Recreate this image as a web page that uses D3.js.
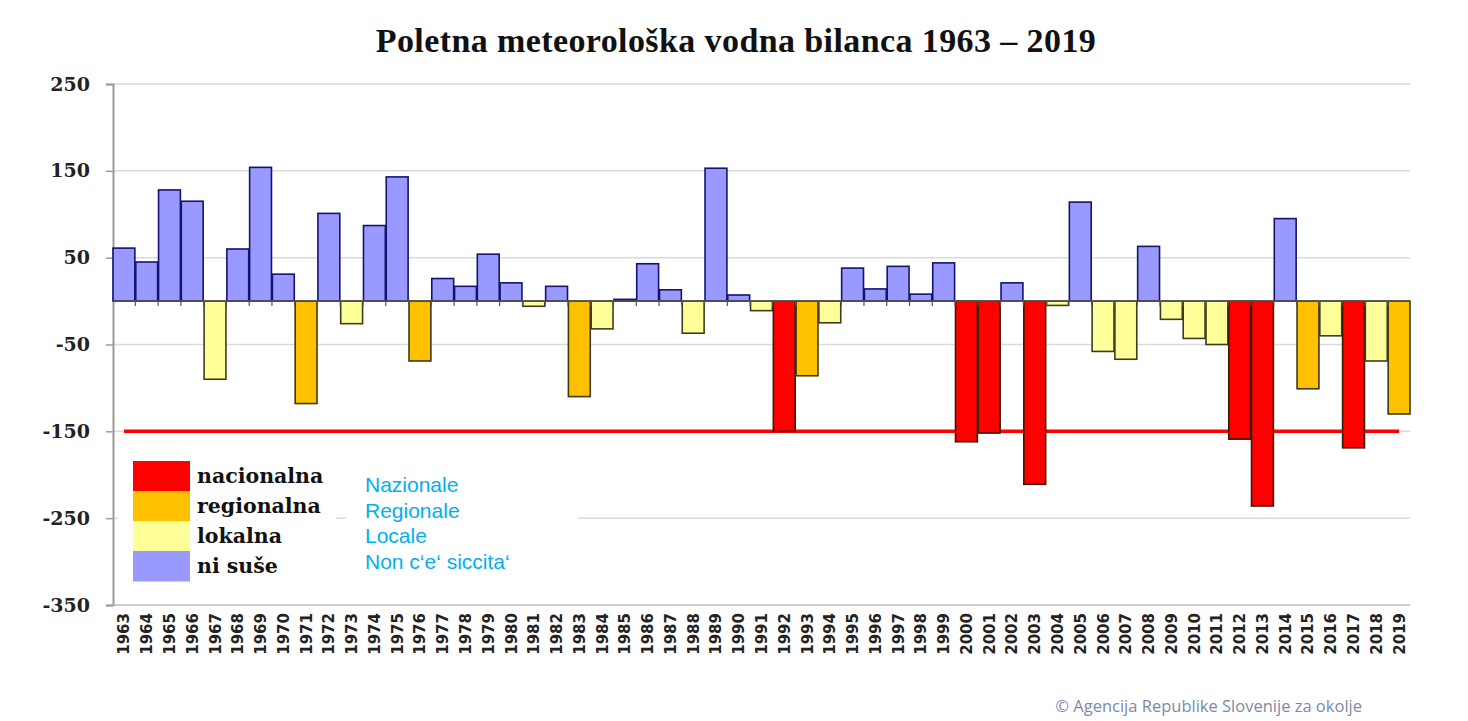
<!DOCTYPE html>
<html>
<head>
<meta charset="utf-8">
<script src="https://cdn.jsdelivr.net/npm/d3@7"></script>
<style>
  body { margin: 0; background: #fff; }
</style>
</head>
<body>
<svg id="chart"></svg>
<script>
const width = 1468,
      height = 721;

// water balance per summer (mm)
const years = d3.range(1963, 2020).map(String);
const values = [
  61, 45, 128, 115, -90, 60, 154, 31, -118, 101,
  -26, 87, 143, -69, 26, 17, 54, 21, -6, 17,
  -110, -32, 2, 43, 13, -37, 153, 7, -11, -150,
  -86, -25, 38, 14, 40, 8, 44, -162, -152, 21,
  -211, -5, 114, -58, -67, 63, -21, -43, -50, -159,
  -236, 95, -101, -40, -169, -69, -130
];
// drought class: N = nacionalna, R = regionalna, L = lokalna, O = ni suše
const classes = [
  "O","O","O","O","L","O","O","O","R","O",
  "L","O","O","R","O","O","O","O","L","O",
  "R","L","O","O","O","L","O","O","L","N",
  "R","L","O","O","O","O","O","N","N","O",
  "N","L","O","L","L","O","L","L","L","N",
  "N","O","R","L","N","L","R"
];
const yTicks = [250, 150, 50, -50, -150, -250, -350];
const threshold = -150;

const legendSl = ["nacionalna", "regionalna", "lokalna", "ni suše"];
const legendIt = ["Nazionale", "Regionale", "Locale", "Non c‘e‘ siccita‘"];
const legendKeys = ["N", "R", "L", "O"];

const fill = { N: "#ff0000", R: "#ffc000", L: "#ffff99", O: "#9999ff" };
const edge = { N: "#3a1a00", R: "#3d3a10", L: "#3d3d1d", O: "#14146e" };

const MARGIN = { LEFT: 113, RIGHT: 58, TOP: 84, BOTTOM: 116 };

const svg = d3.select("#chart").attr("width", width).attr("height", height);

const x = d3.scaleBand()
    .domain(years)
    .range([MARGIN.LEFT, width - MARGIN.RIGHT])
    .paddingInner(0.04);

const y = d3.scaleLinear()
    .domain([-350, 250])
    .range([height - MARGIN.BOTTOM, MARGIN.TOP]);

// title
svg.append("text")
    .attr("x", 736).attr("y", 52)
    .attr("text-anchor", "middle")
    .style("font-family", "'Liberation Serif', serif")
    .style("font-weight", "bold")
    .style("font-size", "34px")
    .style("letter-spacing", "0.4px")
    .attr("fill", "#111")
    .text("Poletna meteorološka vodna bilanca 1963 – 2019");

// grid lines
svg.append("g")
    .selectAll("line")
    .data(yTicks.slice(0, -1))
    .join("line")
    .attr("x1", MARGIN.LEFT).attr("x2", width - MARGIN.RIGHT)
    .attr("y1", d => y(d)).attr("y2", d => y(d))
    .attr("stroke", "#dadada")
    .attr("stroke-width", 1.5);

// y axis
const yAxis = svg.append("g")
    .attr("transform", `translate(${MARGIN.LEFT},0)`)
    .call(d3.axisLeft(y).tickValues(yTicks).tickSize(7).tickPadding(16).tickFormat(d => String(d)));
yAxis.select(".domain").attr("stroke", "#9a9a9a").attr("stroke-width", 2);
yAxis.selectAll(".tick line").attr("stroke", "#9a9a9a").attr("stroke-width", 1.5);
yAxis.selectAll("text")
    .style("font-family", "'DejaVu Serif', serif")
    .style("font-weight", "bold")
    .style("font-size", "19px")
    .attr("fill", "#222");

// bottom frame line at -350
svg.append("line")
    .attr("x1", MARGIN.LEFT).attr("x2", width - MARGIN.RIGHT)
    .attr("y1", y(-350)).attr("y2", y(-350))
    .attr("stroke", "#bdbdbd").attr("stroke-width", 1.5);

// year labels at the bottom
svg.append("g")
    .selectAll("text")
    .data(years)
    .join("text")
    .attr("transform", d => `translate(${x(d) + x.bandwidth() / 2 + 5.5},${y(-350) + 8}) rotate(-90)`)
    .attr("text-anchor", "end")
    .style("font-family", "'DejaVu Sans', sans-serif")
    .style("font-weight", "bold")
    .style("font-size", "15px")
    .attr("fill", "#222")
    .text(d => d);

// national drought threshold
svg.append("line")
    .attr("x1", x(years[0]) + x.bandwidth() / 2)
    .attr("x2", x(years[years.length - 1]) + x.bandwidth() / 2)
    .attr("y1", y(threshold)).attr("y2", y(threshold))
    .attr("stroke", "#ff0000")
    .attr("stroke-width", 3.5);

// bars
const rows = years.map((yr, i) => ({ year: yr, value: values[i], cls: classes[i] }));
svg.append("g")
    .selectAll("rect")
    .data(rows)
    .join("rect")
    .attr("x", d => x(d.year))
    .attr("width", x.bandwidth())
    .attr("y", d => y(Math.max(0, d.value)))
    .attr("height", d => Math.abs(y(d.value) - y(0)))
    .attr("fill", d => fill[d.cls])
    .attr("stroke", d => edge[d.cls])
    .attr("stroke-width", 1.6);

// category axis along zero
const xAxis = svg.append("g")
    .attr("transform", `translate(0,${y(0)})`);
xAxis.append("line")
    .attr("x1", MARGIN.LEFT).attr("x2", width - MARGIN.RIGHT)
    .attr("y1", 0).attr("y2", 0)
    .attr("stroke", "#555").attr("stroke-width", 1.5);
xAxis.selectAll(".sep")
    .data(years.slice(1))
    .join("line")
    .attr("class", "sep")
    .attr("x1", d => x(d) - x.step() * x.paddingInner() / 2)
    .attr("x2", d => x(d) - x.step() * x.paddingInner() / 2)
    .attr("y1", 0).attr("y2", 5)
    .attr("stroke", "#555").attr("stroke-width", 1.2);

// legend (pasted box + italian overlay)
svg.append("rect")
    .attr("x", 118).attr("y", 446).attr("width", 218).attr("height", 146)
    .attr("fill", "#fff");
svg.append("rect")
    .attr("x", 346).attr("y", 466).attr("width", 232).attr("height", 118)
    .attr("fill", "#fff");

const lg = svg.append("g");
legendKeys.forEach((k, i) => {
    lg.append("rect")
        .attr("x", 133).attr("y", 461 + i * 30)
        .attr("width", 57).attr("height", 30.5)
        .attr("fill", fill[k]);
    lg.append("text")
        .attr("x", 197).attr("y", 483 + i * 30)
        .style("font-family", "'DejaVu Serif', serif")
        .style("font-weight", "bold")
        .style("font-size", "20.5px")
        .attr("fill", "#111")
        .text(legendSl[i]);
    lg.append("text")
        .attr("x", 365).attr("y", 492 + i * 25.5)
        .style("font-family", "'Liberation Sans', Arial, sans-serif")
        .style("font-size", "21px")
        .attr("fill", "#00b0f0")
        .text(legendIt[i]);
});

// source
svg.append("text")
    .attr("x", 1362).attr("y", 712)
    .attr("text-anchor", "end")
    .style("font-family", "'Open Sans', sans-serif")
    .style("font-size", "16.5px")
    .attr("fill", "#7b8aa8")
    .text("© Agencija Republike Slovenije za okolje");
</script>
</body>
</html>
